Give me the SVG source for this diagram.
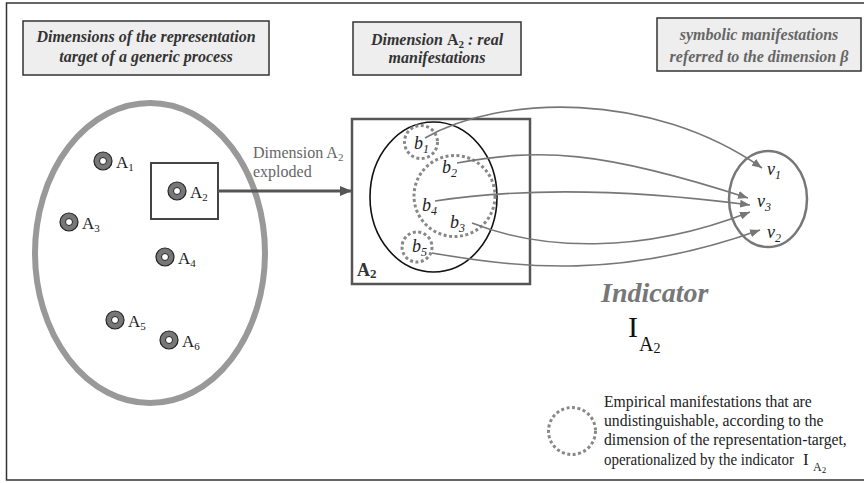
<svg xmlns="http://www.w3.org/2000/svg" width="864" height="483" viewBox="0 0 864 483" font-family="'Liberation Serif', 'DejaVu Serif', 'Times New Roman', serif">
<style>
text{font-family:"Liberation Serif","DejaVu Serif","Times New Roman",serif;}
.hbox{fill:#eeeeee;stroke:#333;stroke-width:1.5;}
.htxt{font-weight:bold;font-style:italic;font-size:16px;fill:#333;text-anchor:middle;}
.htxt3{font-weight:bold;font-style:italic;font-size:16px;fill:#666;text-anchor:middle;}
.pt{fill:#777;stroke:#222;stroke-width:1.2;}
.ptin{fill:#fff;stroke:#222;stroke-width:1;}
.lab{font-size:17px;fill:#222;}
.sub{font-size:11px;}
.bl{font-size:18px;font-style:italic;fill:#222;}
.bsub{font-size:12px;font-style:italic;}
.dot{fill:none;stroke:#888;stroke-width:3;stroke-dasharray:3 2.5;}
.conn{fill:none;stroke:#777;stroke-width:1.6;marker-end:url(#ah);}
.leg{font-size:15.7px;fill:#222;}
</style>
<defs>
<marker id="ah" viewBox="0 0 10 8" refX="10" refY="4" markerWidth="10" markerHeight="8" markerUnits="userSpaceOnUse" orient="auto">
<path d="M0,0 L10,4 L0,8 z" fill="#777"/>
</marker>
<marker id="ahb" viewBox="0 0 12 10" refX="12" refY="5" markerWidth="12" markerHeight="10" markerUnits="userSpaceOnUse" orient="auto">
<path d="M0,0 L12,5 L0,10 z" fill="#555"/>
</marker>
</defs>
<rect x="0" y="0" width="864" height="483" fill="#fff"/>
<rect x="6.5" y="3" width="870" height="477" fill="none" stroke="#333" stroke-width="1.5"/>

<g id="header1">
<rect class="hbox" x="23" y="21" width="246" height="54"/>
<text class="htxt" x="146" y="42">Dimensions of the representation</text>
<text class="htxt" x="146" y="62">target of a generic process</text>
</g>
<g id="header2">
<rect class="hbox" x="353" y="22" width="168" height="53"/>
<text class="htxt" x="437" y="45">Dimension <tspan font-style="normal">A<tspan font-size="11px" dy="3">2</tspan></tspan><tspan dy="-3"> : real</tspan></text>
<text class="htxt" x="437" y="63">manifestations</text>
</g>
<g id="header3">
<rect class="hbox" x="657" y="18" width="204" height="53"/>
<text class="htxt3" x="759" y="40">symbolic manifestations</text>
<text class="htxt3" x="759" y="62">referred to the dimension β</text>
</g>

<g id="process">
<ellipse cx="150" cy="253" rx="115" ry="150" fill="none" stroke="#999" stroke-width="6"/>
</g>
<g id="A1"><circle class="pt" cx="103" cy="161" r="9"/><circle class="ptin" cx="103" cy="161" r="3.5"/><text class="lab" x="116" y="168">A<tspan class="sub" dy="3">1</tspan></text></g>
<g id="A2">
<rect x="151" y="163" width="67" height="56" fill="none" stroke="#444" stroke-width="2"/>
<circle class="pt" cx="177" cy="191" r="9"/><circle class="ptin" cx="177" cy="191" r="3.5"/><text class="lab" x="190" y="198">A<tspan class="sub" dy="3">2</tspan></text></g>
<g id="A3"><circle class="pt" cx="69" cy="222" r="9"/><circle class="ptin" cx="69" cy="222" r="3.5"/><text class="lab" x="82" y="229">A<tspan class="sub" dy="3">3</tspan></text></g>
<g id="A4"><circle class="pt" cx="165" cy="257" r="9"/><circle class="ptin" cx="165" cy="257" r="3.5"/><text class="lab" x="178" y="264">A<tspan class="sub" dy="3">4</tspan></text></g>
<g id="A5"><circle class="pt" cx="115" cy="320" r="9"/><circle class="ptin" cx="115" cy="320" r="3.5"/><text class="lab" x="128" y="327">A<tspan class="sub" dy="3">5</tspan></text></g>
<g id="A6"><circle class="pt" cx="169" cy="340" r="9"/><circle class="ptin" cx="169" cy="340" r="3.5"/><text class="lab" x="182" y="347">A<tspan class="sub" dy="3">6</tspan></text></g>

<g id="A2-exploded">
<rect x="352" y="119" width="178" height="165" fill="none" stroke="#555" stroke-width="2.5"/>
<text x="357" y="276" font-size="18px" font-weight="bold" fill="#333">A<tspan font-size="13px" dy="2">2</tspan></text>
<ellipse cx="433.5" cy="197" rx="63.5" ry="75" fill="none" stroke="#111" stroke-width="1.6"/>
<circle class="dot" cx="421" cy="142" r="16.5"/>
<circle class="dot" cx="454.5" cy="196" r="40.5"/>
<circle class="dot" cx="417" cy="247" r="15"/>
<text class="bl" x="414" y="149">b<tspan class="bsub" dy="4">1</tspan></text>
<text class="bl" x="442" y="173">b<tspan class="bsub" dy="4">2</tspan></text>
<text class="bl" x="422" y="211">b<tspan class="bsub" dy="4">4</tspan></text>
<text class="bl" x="450" y="228">b<tspan class="bsub" dy="4">3</tspan></text>
<text class="bl" x="412" y="252">b<tspan class="bsub" dy="4">5</tspan></text>
</g>

<g id="symbolic">
<ellipse cx="768" cy="199" rx="39" ry="48" fill="none" stroke="#777" stroke-width="2.5"/>
<text class="bl" x="767" y="175">v<tspan class="bsub" dy="4">1</tspan></text>
<text class="bl" x="757" y="207">v<tspan class="bsub" dy="4">3</tspan></text>
<text class="bl" x="767" y="238">v<tspan class="bsub" dy="4">2</tspan></text>
</g>

<g id="connectors">
<line x1="218" y1="191" x2="352" y2="191" stroke="#555" stroke-width="3" marker-end="url(#ahb)"/>
<text x="253" y="158" font-size="16px" fill="#666">Dimension A<tspan font-size="11px" dy="3">2</tspan></text>
<text x="253" y="177" font-size="16px" fill="#666">exploded</text>
<path class="conn" d="M425,138 C500,95 650,90 762,168"/>
<path class="conn" d="M457,163 C540,148 600,150 748,198"/>
<path class="conn" d="M435,201 C520,188 620,188 750,205"/>
<path class="conn" d="M472,223 C540,250 640,255 750,212"/>
<path class="conn" d="M432,253 C520,268 620,280 760,230"/>
</g>

<g id="indicator">
<text x="601" y="302" font-size="28px" font-weight="bold" font-style="italic" fill="#777">Indicator</text>
<text x="628" y="337" font-size="30px" fill="#111">I</text>
<text x="639" y="351" font-size="20px" fill="#111">A<tspan font-size="14px" dy="2">2</tspan></text>
</g>

<g id="legend">
<circle class="dot" cx="572" cy="431" r="23.5" stroke-width="3.5"/>
<text class="leg" x="604" y="407">Empirical manifestations that are</text>
<text class="leg" x="604" y="426">undistinguishable, according to the</text>
<text class="leg" x="604" y="445">dimension of the representation-target,</text>
<text class="leg" x="604" y="465" textLength="190" lengthAdjust="spacingAndGlyphs">operationalized by the indicator</text>
<text x="803" y="465" font-size="17px" fill="#222">I</text>
<text x="813" y="471" font-size="12px" fill="#222">A<tspan font-size="9px" dy="2">2</tspan></text>
</g>
</svg>
